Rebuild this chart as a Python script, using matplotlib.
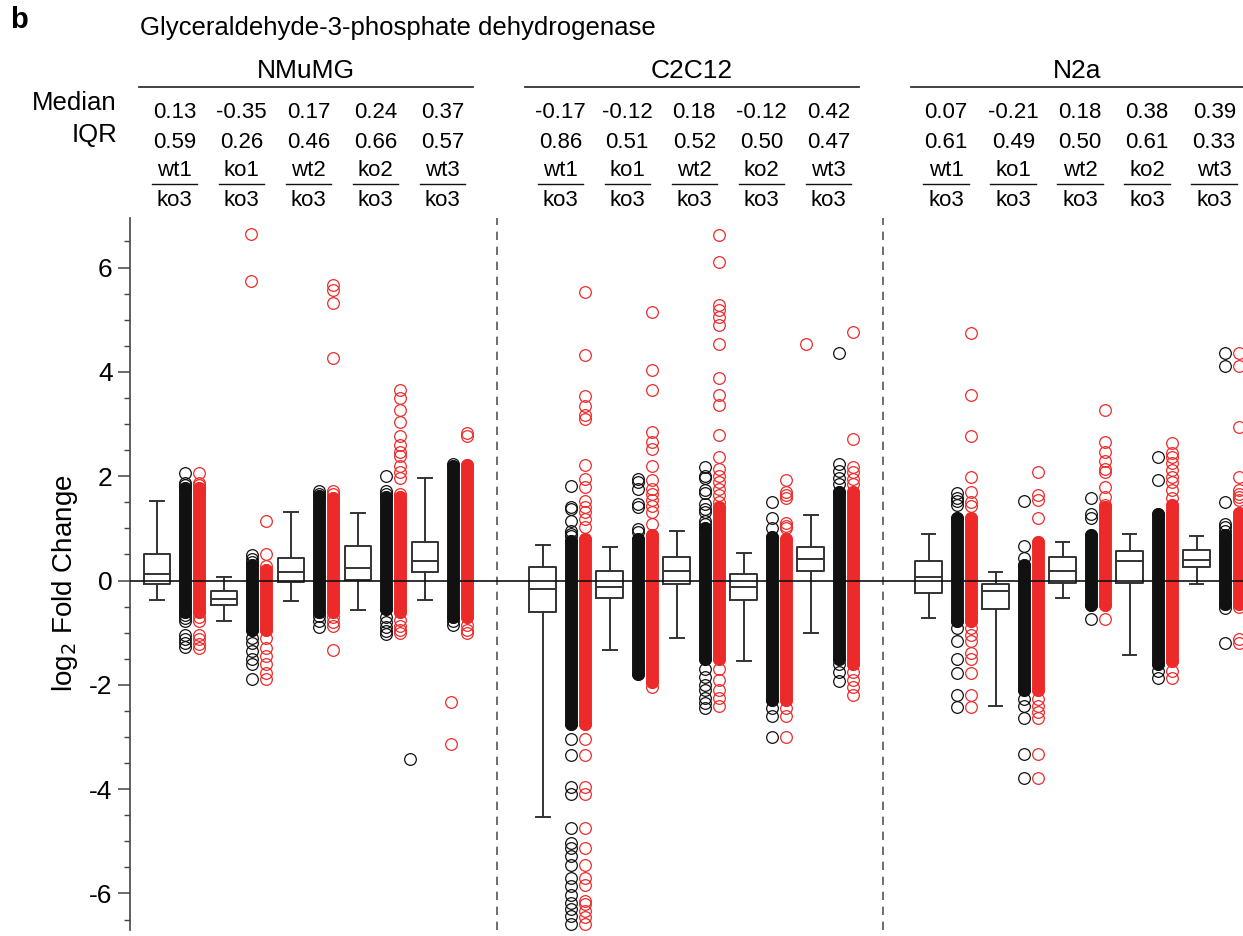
import matplotlib
matplotlib.use('Agg')
import matplotlib.pyplot as plt
import matplotlib.transforms as mtransforms

plt.rcParams['font.family'] = ['Liberation Sans', 'DejaVu Sans']

groups = ['NMuMG', 'C2C12', 'N2a']
numerators = ['wt1', 'ko1', 'wt2', 'ko2', 'wt3']
denominator = 'ko3'

median_labels = [[0.13, -0.35, 0.17, 0.24, 0.37],
                 [-0.17, -0.12, 0.18, -0.12, 0.42],
                 [0.07, -0.21, 0.18, 0.38, 0.39]]
iqr_labels = [[0.59, 0.26, 0.46, 0.66, 0.57],
              [0.86, 0.51, 0.52, 0.50, 0.47],
              [0.61, 0.49, 0.50, 0.61, 0.33]]

# box plot stats
box_q1 = [[-0.07, -0.46, -0.03, 0.01, 0.17],
          [-0.60, -0.34, -0.06, -0.38, 0.18],
          [-0.23, -0.55, -0.04, -0.05, 0.26]]
box_q3 = [[0.51, -0.20, 0.44, 0.67, 0.74],
          [0.26, 0.18, 0.46, 0.12, 0.65],
          [0.37, -0.07, 0.46, 0.56, 0.59]]
whis_lo = [[-0.37, -0.77, -0.39, -0.56, -0.37],
           [-4.54, -1.33, -1.10, -1.55, -1.00],
           [-0.71, -2.40, -0.33, -1.42, -0.07]]
whis_hi = [[1.52, 0.06, 1.31, 1.29, 1.96],
           [0.69, 0.65, 0.94, 0.53, 1.25],
           [0.90, 0.17, 0.74, 0.90, 0.86]]

# dense part of each strip [low, high] and the separate points around it
black_core = [[[-0.6, 1.78], [-0.95, 0.3], [-0.6, 1.62], [-0.55, 1.6], [-0.7, 2.2]],
              [[-2.75, 0.75], [-1.8, 0.8], [-1.5, 1.0], [-2.3, 0.84], [-1.5, 1.7]],
              [[-0.78, 1.19], [-2.1, 0.3], [-0.46, 0.87], [-1.6, 1.28], [-0.45, 0.87]]]
red_core = [[[-0.6, 1.78], [-0.95, 0.2], [-0.6, 1.58], [-0.6, 1.6], [-0.7, 2.22]],
            [[-2.75, 0.8], [-1.95, 0.88], [-1.5, 1.4], [-2.3, 0.8], [-1.6, 1.7]],
            [[-0.78, 1.19], [-2.1, 0.74], [-0.46, 1.4], [-1.55, 1.44], [-0.45, 1.3]]]

black_extra = [
    [[2.06, 1.87, 1.83, -0.66, -0.72, -0.78, -1.05, -1.12, -1.2, -1.28],
     [0.49, 0.42, 0.35, -1.1, -1.2, -1.35, -1.5, -1.6, -1.88],
     [1.71, 1.66, -0.68, -0.78, -0.89],
     [2.01, 1.71, 1.66, -0.7, -0.8, -0.9, -0.97, -1.02],
     [2.23, -0.78, -0.85]],
    [[1.82, 1.41, 1.38, 1.15, 0.94, 0.9, 0.85, -3.04, -3.34, -3.96, -4.1, -4.74, -5.04,
      -5.12, -5.29, -5.45, -5.7, -5.86, -6.02, -6.18, -6.3, -6.43, -6.59],
     [1.95, 1.88, 1.75, 1.47, 1.41, 0.99, 0.93],
     [2.17, 2.01, 1.96, 1.73, 1.68, 1.47, 1.38, 1.31, 1.15, 1.08,
      -1.7, -1.85, -2.0, -2.1, -2.25, -2.35, -2.45],
     [1.5, 1.2, 1.0, -2.45, -2.6, -3.0],
     [4.36, 2.23, 2.1, 1.97, 1.85, -1.6, -1.75, -1.92]],
    [[1.68, 1.58, 1.52, 1.45, -0.91, -1.16, -1.5, -1.78, -2.19, -2.43],
     [1.52, 0.66, 0.44, -2.27, -2.4, -2.64, -3.33, -3.78],
     [1.58, 1.28, 1.19, -0.74],
     [2.36, 1.93, -1.73, -1.86],
     [4.36, 4.12, 1.5, 1.09, 1.02, 0.95, -0.53, -1.19]]]
red_extra = [
    [[2.06, 1.87, 1.83, -0.7, -0.78, -1.05, -1.13, -1.22, -1.3],
     [1.15, 0.5, 0.28, -1.1, -1.3, -1.45, -1.6, -1.78, -1.88],
     [5.66, 5.57, 5.32, 4.27, 1.71, 1.66, -0.7, -0.8, -0.88, -1.33],
     [3.66, 3.5, 3.27, 3.03, 2.78, 2.6, 2.47, 2.38, 2.2, 2.08, 1.96, 1.66,
      -0.75, -0.88, -0.95, -1.0],
     [2.82, 2.78, -0.85, -0.95, -1.0]],
    [[5.54, 4.32, 3.54, 3.35, 3.17, 3.09, 2.22, 1.95, 1.8, 1.52, 1.41, 1.32, 1.17, 1.02,
      -3.04, -3.34, -3.96, -4.09, -4.75, -5.13, -5.45, -5.7, -5.84, -6.14, -6.2,
      -6.33, -6.46, -6.59],
     [5.14, 4.04, 3.66, 2.85, 2.66, 2.53, 2.19, 1.92, 1.75, 1.65, 1.55, 1.43, 1.32, 1.08, -2.05],
     [6.62, 6.11, 5.28, 5.19, 5.05, 4.9, 4.54, 3.89, 3.55, 3.36, 2.79, 2.37, 2.14, 2.01,
      1.88, 1.76, 1.63, 1.51, -1.7, -1.9, -2.1, -2.25, -2.4],
     [1.92, 1.7, 1.64, 1.58, 1.11, 1.05, 1.0, -2.45, -2.6, -3.0],
     [4.76, 2.72, 2.17, 2.08, 1.95, 1.85, -1.75, -1.9, -2.05, -2.2]],
    [[4.75, 3.55, 2.77, 1.98, 1.7, 1.5, 1.42, -0.91, -1.04, -1.16, -1.38, -1.5, -1.78,
      -2.19, -2.43],
     [2.08, 1.64, 1.55, 1.2, -2.27, -2.4, -2.52, -2.64, -3.33, -3.78],
     [3.27, 2.65, 2.46, 2.3, 2.14, 2.08, 1.79, 1.6, 1.44, -0.74],
     [2.63, 2.44, 2.36, 2.25, 2.12, 1.98, 1.88, 1.73, 1.58, -1.73, -1.86],
     [4.36, 4.12, 2.94, 1.98, 1.73, 1.66, 1.6, 1.55, -0.5, -1.12, -1.19]]]

# points that sit off their strip in the original
stray_group = [0, 0, 0, 0, 0, 1]
stray_comp = [1, 1, 4, 4, 4, 4]
stray_shift = [0.40, 0.40, -0.22, 0.39, 0.39, -0.07]
stray_value = [6.65, 5.75, -3.42, -2.33, -3.13, 4.54]
stray_color = ['red', 'red', 'black', 'red', 'red', 'red']

RED = '#ec2a2a'
BLACK = '#111111'
GROUP_STEP = 5.76
BLACK_OFF, RED_OFF = 0.42, 0.63
MS = 8.4
HDR = 16

fig = plt.figure(figsize=(12.43, 9.36), dpi=100)
ax = fig.add_axes([130 / 1243, 6 / 936, 1 - 130 / 1243, 712 / 936])
trans = mtransforms.blended_transform_factory(ax.transData, fig.transFigure)


def fy(px):
    return 1 - px / 936


def strip(x, core, extra, color):
    ax.plot([x, x], core, color=color, lw=MS + 0.9, solid_capstyle='round', zorder=2)
    vals = list(core) + list(extra)
    ax.plot([x] * len(vals), vals, 'o', ms=MS, mfc='none', mec=color, mew=0.9, zorder=3)


for g, gname in enumerate(groups):
    x0 = g * GROUP_STEP
    stats = []
    for i in range(5):
        x = x0 + i
        stats.append(dict(med=median_labels[g][i], q1=box_q1[g][i], q3=box_q3[g][i],
                          whislo=whis_lo[g][i], whishi=whis_hi[g][i], fliers=[]))
        strip(x + BLACK_OFF, black_core[g][i], black_extra[g][i], BLACK)
        strip(x + RED_OFF, red_core[g][i], red_extra[g][i], RED)

        # header column
        hx = x + 0.26
        ax.text(hx, fy(112), f'{median_labels[g][i]:.2f}', transform=trans,
                ha='center', va='center', fontsize=HDR)
        ax.text(hx, fy(142), f'{iqr_labels[g][i]:.2f}', transform=trans,
                ha='center', va='center', fontsize=HDR)
        ax.text(hx, fy(171), numerators[i], transform=trans,
                ha='center', va='center', fontsize=HDR)
        ax.text(hx, fy(200), denominator, transform=trans,
                ha='center', va='center', fontsize=HDR)
        ax.plot([hx - 0.34, hx + 0.34], [fy(184), fy(184)], transform=trans,
                color=BLACK, lw=1.0, clip_on=False)

    ax.bxp(stats, positions=[x0 + i for i in range(5)], widths=0.40, showfliers=False,
           boxprops=dict(color='#333333', lw=1.4),
           whiskerprops=dict(color='#333333', lw=1.4),
           capprops=dict(color='#333333', lw=1.4),
           medianprops=dict(color='#333333', lw=1.4), capwidths=0.2,
           manage_ticks=False, zorder=4)

    # group header
    ax.plot([x0 - 0.27, x0 + 4.72], [fy(87), fy(87)], transform=trans,
            color='#333333', lw=1.3, clip_on=False)
    ax.text(x0 + 2.22, fy(71), gname, transform=trans, ha='center', va='center',
            fontsize=19)
    if g > 0:
        ax.axvline(x0 - 0.68, color='#555555', lw=1.2, ls=(0, (5, 4)), zorder=1)

for g, c, s, v, col in zip(stray_group, stray_comp, stray_shift, stray_value, stray_color):
    ax.plot(g * GROUP_STEP + c + s, v, 'o', ms=MS, mfc='none',
            mec=RED if col == 'red' else BLACK, mew=0.9, zorder=3)

ax.axhline(0, color=BLACK, lw=1.2, zorder=5)

ax.set_xlim(-0.403, 16.21)
ax.set_ylim(-6.7, 6.95)
ax.set_yticks([-6, -4, -2, 0, 2, 4, 6])
ax.set_yticks([v / 2 for v in range(-13, 14)], minor=True)
ax.set_yticklabels(['-6', '-4', '-2', '0', '2', '4', '6'])
ax.tick_params(axis='y', which='major', length=9, width=1.1, labelsize=19, color='#444444')
ax.tick_params(axis='y', which='minor', length=4.5, width=1.0, color='#444444')
ax.set_xticks([])
for side in ['top', 'right', 'bottom']:
    ax.spines[side].set_visible(False)
ax.spines['left'].set_color('#444444')
ax.spines['left'].set_linewidth(1.2)
ax.set_ylabel('log$_2$ Fold Change', fontsize=20)
ax.yaxis.set_label_coords(-0.045, 0.487)

fig.text(140 / 1243, fy(28), 'Glyceraldehyde-3-phosphate dehydrogenase', fontsize=18.5,
         ha='left', va='center')
fig.text(10 / 1243, fy(20), 'b', fontsize=21, fontweight='bold', ha='left', va='center')
fig.text(117 / 1243, fy(103), 'Median', fontsize=18.5, ha='right', va='center')
fig.text(117 / 1243, fy(135), 'IQR', fontsize=18.5, ha='right', va='center')

fig.savefig('out.png', dpi=100)
